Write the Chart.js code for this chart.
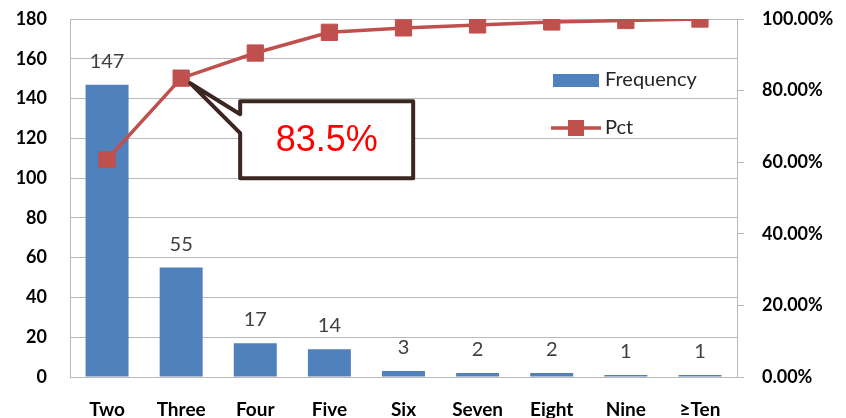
<!DOCTYPE html>
<html>
<head>
<meta charset="utf-8">
<script src="https://cdn.jsdelivr.net/npm/chart.js@4.4.1/dist/chart.umd.min.js"></script>
<style>
  html, body { margin: 0; padding: 0; background: #fff; }
  #wrap { width: 846px; height: 418px; position: relative; }
</style>
</head>
<body>
<div id="wrap"><canvas id="pareto"></canvas></div>
<script>
const categories = ['Two', 'Three', 'Four', 'Five', 'Six', 'Seven', 'Eight', 'Nine', '≥Ten'];
const frequency = [147, 55, 17, 14, 3, 2, 2, 1, 1];
const pct = [60.74, 83.47, 90.50, 96.28, 97.52, 98.35, 99.17, 99.59, 100];
const calloutIndex = 1;
const calloutText = '83.5%';

const BLUE = '#4F81BD';
const RED = '#C0504D';
const GRID = '#B9B9B9';
const FONT = 'Lato, "Open Sans", sans-serif';

// numbers above bars
const barLabels = {
  id: 'barLabels',
  afterDatasetsDraw(chart) {
    const ctx = chart.ctx;
    const meta = chart.getDatasetMeta(0);
    ctx.save();
    ctx.font = '20px ' + FONT;
    ctx.fillStyle = '#404040';
    ctx.textAlign = 'center';
    ctx.textBaseline = 'alphabetic';
    meta.data.forEach((bar, i) => {
      ctx.fillText(String(frequency[i]), bar.x, bar.y - 17);
    });
    ctx.restore();
  }
};

// legend sitting inside the plot
const innerLegend = {
  id: 'innerLegend',
  afterDraw(chart) {
    const ctx = chart.ctx;
    const a = chart.chartArea;
    const x = a.left + 483;
    ctx.save();
    ctx.fillStyle = BLUE;
    ctx.fillRect(x, 74, 46, 13);
    ctx.strokeStyle = RED;
    ctx.lineWidth = 3.5;
    ctx.beginPath();
    ctx.moveTo(x - 2, 128);
    ctx.lineTo(x + 48, 128);
    ctx.stroke();
    ctx.fillStyle = RED;
    ctx.fillRect(x + 15, 120, 16, 16);
    ctx.font = '20px ' + FONT;
    ctx.fillStyle = '#262626';
    ctx.textBaseline = 'middle';
    ctx.fillText('Frequency', x + 52, 80);
    ctx.fillText('Pct', x + 52, 128);
    ctx.restore();
  }
};

// callout box pointing at one point of the line
const callout = {
  id: 'callout',
  afterDraw(chart) {
    const pt = chart.getDatasetMeta(1).data[calloutIndex];
    if (!pt) return;
    const ctx = chart.ctx;
    const l = pt.x + 59, t = pt.y + 23, r = l + 173, b = t + 77;
    ctx.save();
    ctx.beginPath();
    ctx.moveTo(l, t);
    ctx.lineTo(r, t);
    ctx.lineTo(r, b);
    ctx.lineTo(l, b);
    ctx.lineTo(l, t + 32);
    ctx.lineTo(pt.x + 9, pt.y + 5);
    ctx.lineTo(l, t + 13);
    ctx.closePath();
    ctx.fillStyle = '#fff';
    ctx.fill();
    ctx.lineWidth = 4;
    ctx.lineJoin = 'round';
    ctx.strokeStyle = '#3B2621';
    ctx.stroke();
    ctx.font = '36px "Liberation Sans", Arial, sans-serif';
    ctx.fillStyle = '#FF0000';
    ctx.textAlign = 'center';
    ctx.textBaseline = 'middle';
    ctx.fillText(calloutText, (l + r) / 2, (t + b) / 2 + 1);
    ctx.restore();
  }
};

const fitY = width => s => {
  s.width = width;
  s.paddingTop = 0;
  s.paddingBottom = 0;
};

new Chart(document.getElementById('pareto'), {
  data: {
    labels: categories,
    datasets: [
      {
        type: 'bar',
        label: 'Frequency',
        data: frequency,
        backgroundColor: BLUE,
        yAxisID: 'y',
        barPercentage: 0.58,
        categoryPercentage: 1,
        order: 2
      },
      {
        type: 'line',
        label: 'Pct',
        data: pct,
        borderColor: RED,
        backgroundColor: RED,
        borderWidth: 3.5,
        pointStyle: 'rect',
        pointRadius: 11.5,
        pointBorderWidth: 1,
        pointBorderColor: RED,
        yAxisID: 'y1',
        order: 1
      }
    ]
  },
  options: {
    responsive: true,
    maintainAspectRatio: false,
    animation: false,
    layout: { padding: { top: 19, left: 0, right: 0, bottom: 0 } },
    plugins: {
      legend: { display: false },
      tooltip: { enabled: false }
    },
    scales: {
      x: {
        grid: { display: false },
        border: { display: true, color: GRID },
        ticks: { color: '#000', padding: 13, font: { family: FONT, size: 19, weight: 'bold' } },
        afterFit: s => { s.height = 41; s.paddingLeft = 0; s.paddingRight = 0; }
      },
      y: {
        position: 'left',
        min: 0,
        max: 180,
        ticks: { stepSize: 20, color: '#000', padding: 23, font: { family: FONT, size: 18, weight: 'bold' } },
        grid: { color: GRID, drawTicks: false },
        border: { display: true, color: GRID },
        afterFit: fitY(70)
      },
      y1: {
        position: 'right',
        min: 0,
        max: 100,
        ticks: {
          stepSize: 20,
          color: '#000',
          padding: 18,
          font: { family: FONT, size: 18, weight: 'bold' },
          callback: v => v.toFixed(2) + '%'
        },
        grid: { drawOnChartArea: false, drawTicks: true, tickLength: 7, color: GRID },
        border: { display: true, color: GRID },
        afterFit: fitY(109)
      }
    }
  },
  plugins: [barLabels, innerLegend, callout]
});
</script>
</body>
</html>
